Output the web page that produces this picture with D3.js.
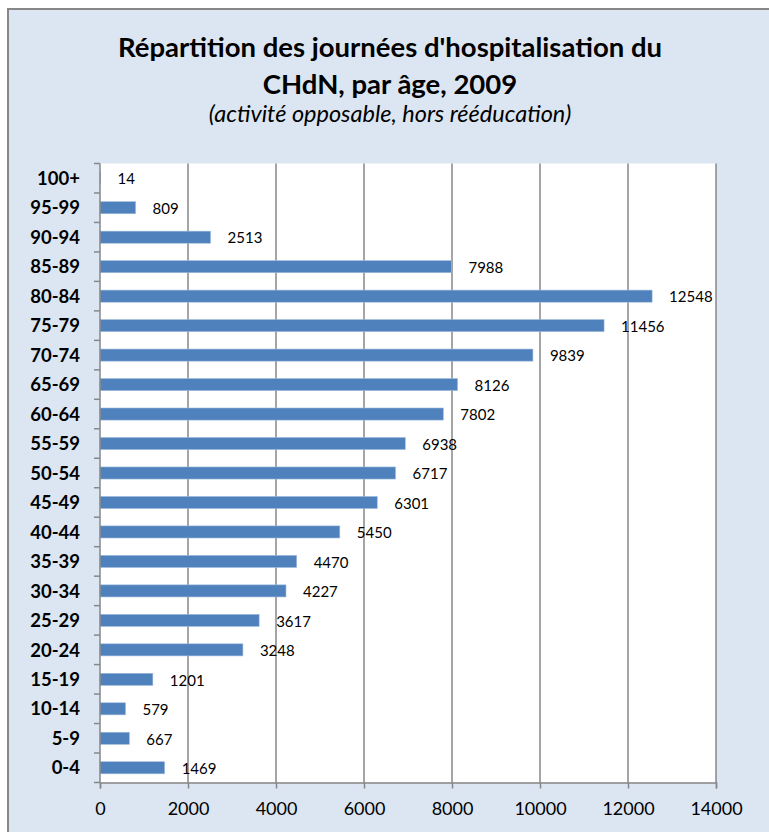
<!DOCTYPE html>
<html>
<head>
<meta charset="utf-8">
<script src="https://cdn.jsdelivr.net/npm/d3@7"></script>
<style>
  body { margin: 0; background: #fff; }
  svg { display: block; font-family: Lato, "Open Sans", sans-serif; }
</style>
</head>
<body>
<div id="chart"></div>
<script>
// age groups, top to bottom
var ages = ["100+", "95-99", "90-94", "85-89", "80-84", "75-79", "70-74", "65-69", "60-64",
  "55-59", "50-54", "45-49", "40-44", "35-39", "30-34", "25-29", "20-24", "15-19", "10-14", "5-9", "0-4"];
var days = [14, 809, 2513, 7988, 12548, 11456, 9839, 8126, 7802,
  6938, 6717, 6301, 5450, 4470, 4227, 3617, 3248, 1201, 579, 667, 1469];
var xTicks = [0, 2000, 4000, 6000, 8000, 10000, 12000, 14000];

var W = 769, H = 832;
var margin = {top: 163.5, right: 53, bottom: 49.5, left: 100},
    width = W - margin.left - margin.right,
    height = H - margin.top - margin.bottom;
var grey = "#878787";

var svg = d3.select("#chart")
  .append("svg")
    .attr("width", W)
    .attr("height", H);

// chart area background + frame
svg.append("rect")
    .attr("x", 8).attr("y", 9)
    .attr("width", W + 10).attr("height", H + 10)
    .attr("fill", "#dce6f2")
    .attr("stroke", grey)
    .attr("stroke-width", 2);

// titles
svg.append("text")
    .attr("x", 390).attr("y", 57)
    .attr("text-anchor", "middle")
    .attr("font-weight", "bold")
    .attr("font-size", "27.5px")
    .attr("fill", "#000")
    .text("Répartition des journées d'hospitalisation du");
svg.append("text")
    .attr("x", 390).attr("y", 94)
    .attr("text-anchor", "middle")
    .attr("font-weight", "bold")
    .attr("font-size", "27.5px")
    .attr("fill", "#000")
    .text("CHdN, par âge, 2009");
svg.append("text")
    .attr("x", 390).attr("y", 122)
    .attr("text-anchor", "middle")
    .attr("font-style", "italic")
    .attr("font-size", "23.5px")
    .attr("fill", "#000")
    .text("(activité opposable, hors rééducation)");

var g = svg.append("g")
    .attr("transform", "translate(" + margin.left + "," + margin.top + ")");

g.append("rect")
    .attr("width", width)
    .attr("height", height)
    .attr("fill", "#fff");

var x = d3.scaleLinear()
    .domain([0, 14000])
    .range([0, width]);

var y = d3.scaleBand()
    .domain(ages)
    .range([0, height])
    .paddingInner(0.59)
    .paddingOuter(0.295);

// vertical grid lines
g.selectAll(".grid")
  .data(xTicks.slice(1))
  .enter().append("line")
    .attr("class", "grid")
    .attr("x1", function(d) { return x(d); })
    .attr("x2", function(d) { return x(d); })
    .attr("y1", 0)
    .attr("y2", height)
    .attr("stroke", grey)
    .attr("stroke-width", 1.5);

// bars
g.selectAll(".bar")
  .data(days)
  .enter().append("rect")
    .attr("class", "bar")
    .attr("x", 0)
    .attr("y", function(d, i) { return y(ages[i]); })
    .attr("width", function(d) { return x(d); })
    .attr("height", y.bandwidth())
    .attr("fill", "#4f81bd")
    .attr("stroke", "#9fbbdd")
    .attr("stroke-width", 0.6);

// value labels
g.selectAll(".lbl")
  .data(days)
  .enter().append("text")
    .attr("class", "lbl")
    .attr("x", function(d) { return x(d) + 17; })
    .attr("y", function(d, i) { return y(ages[i]) + y.bandwidth() / 2 + 1; })
    .attr("dy", "0.35em")
    .attr("font-size", "15px")
    .attr("fill", "#000")
    .text(function(d) { return d; });

// y axis: ticks on band boundaries
var step = y.step();
var bounds = d3.range(ages.length + 1).map(function(i) { return i * step; });
g.append("line")
    .attr("x1", 0).attr("x2", 0)
    .attr("y1", 0).attr("y2", height)
    .attr("stroke", grey).attr("stroke-width", 1.5);
g.selectAll(".ytick")
  .data(bounds)
  .enter().append("line")
    .attr("class", "ytick")
    .attr("x1", -6).attr("x2", 0)
    .attr("y1", function(d) { return d; })
    .attr("y2", function(d) { return d; })
    .attr("stroke", grey).attr("stroke-width", 1.5);
g.selectAll(".ylab")
  .data(ages)
  .enter().append("text")
    .attr("class", "ylab")
    .attr("x", -20)
    .attr("y", function(d) { return y(d) + y.bandwidth() / 2; })
    .attr("dy", "0.36em")
    .attr("text-anchor", "end")
    .attr("font-weight", "bold")
    .attr("font-size", "18.5px")
    .attr("fill", "#000")
    .text(function(d) { return d; });

// x axis
var xAxis = g.append("g")
    .attr("transform", "translate(0," + height + ")")
    .call(d3.axisBottom(x).tickValues(xTicks).tickSize(6).tickPadding(14).tickFormat(d3.format("d")));
xAxis.select(".domain").attr("stroke", grey).attr("stroke-width", 1.5);
xAxis.selectAll(".tick line").attr("stroke", grey).attr("stroke-width", 1.5);
xAxis.selectAll(".tick text")
    .attr("font-family", "Lato, sans-serif")
    .attr("font-size", "18px")
    .attr("fill", "#000");
</script>
</body>
</html>
